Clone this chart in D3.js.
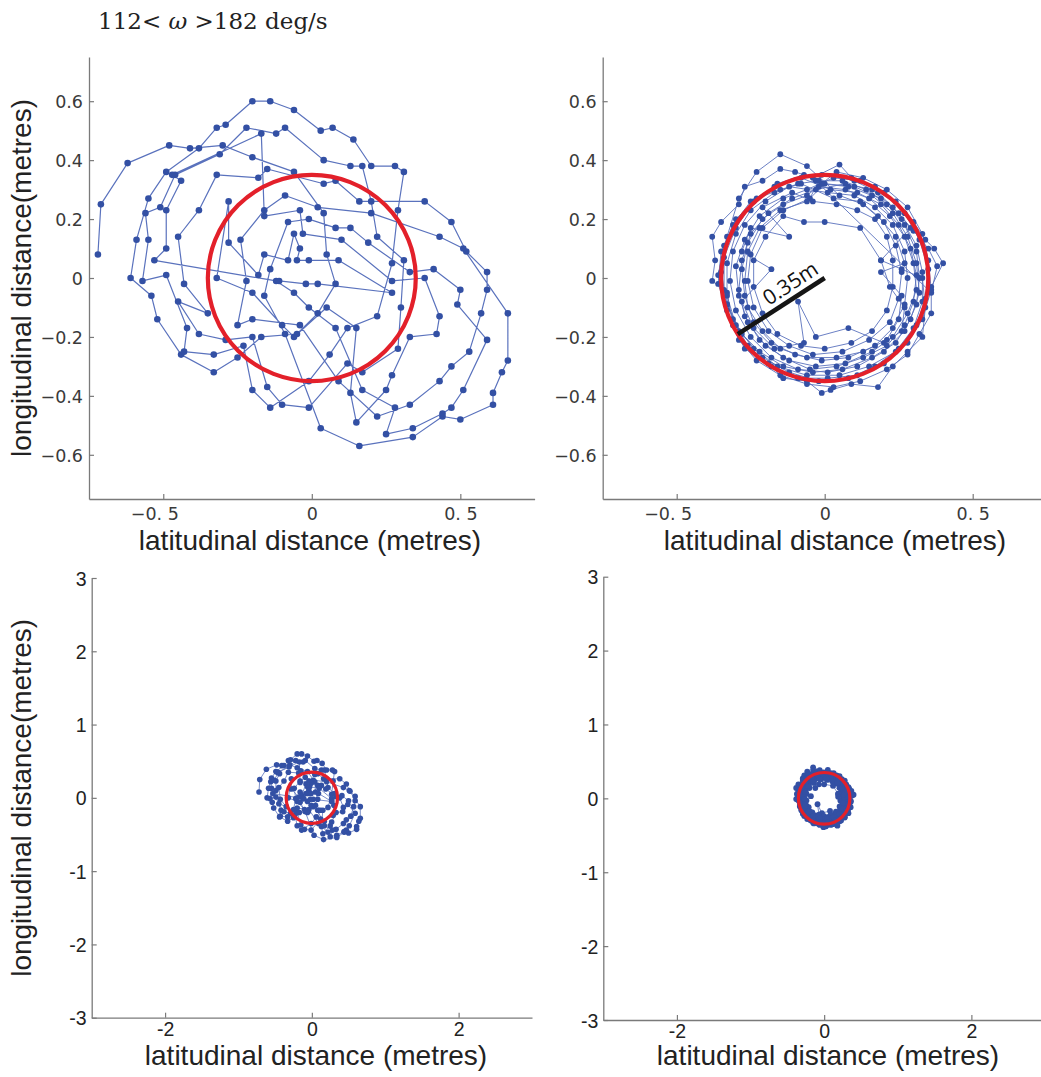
<!DOCTYPE html>
<html>
<head>
<meta charset="utf-8">
<script src="https://cdn.jsdelivr.net/npm/d3@7"></script>
<style>
  html, body { margin: 0; padding: 0; background: #fff; }
  svg { display: block; }
</style>
</head>
<body>
<svg id="fig" width="1041" height="1077"></svg>
<script>
// Trajectory of the robot centre, latitudinal (x) vs longitudinal (y), metres.
// Unstabilised run: the orbit drifts from upper-left to lower-right.
const driftTrack = [
  [-0.72,0.08],[-0.71,0.25],[-0.62,0.39],[-0.48,0.45],[-0.41,0.44],[-0.30,0.45],[-0.20,0.41],[-0.06,0.36],[0.04,0.22],[0.05,0.08],[0.08,-0.02],[0.02,-0.12],[-0.05,-0.19],[-0.17,-0.20],[-0.25,-0.27],[-0.33,-0.32],[-0.44,-0.26],[-0.52,-0.14],[-0.54,-0.06],[-0.61,0.00],
  [-0.59,0.13],[-0.55,0.27],[-0.49,0.36],[-0.38,0.44],[-0.32,0.51],[-0.29,0.52],[-0.20,0.60],[-0.14,0.60],[-0.06,0.57],[0.03,0.50],[0.07,0.51],[0.14,0.47],[0.20,0.38],[0.28,0.38],[0.31,0.36],[0.29,0.23],[0.27,0.05],[0.22,-0.13],[0.12,-0.17],[0.06,-0.26],[-0.01,-0.35],[-0.14,-0.44],[-0.20,-0.38],[-0.23,-0.23],[-0.33,-0.26],[-0.43,-0.25],[-0.42,-0.17],[-0.49,0.01],
  [-0.57,-0.01],[-0.55,0.13],[-0.56,0.22],[-0.51,0.24],[-0.46,0.35],[-0.31,0.42],[-0.22,0.51],[-0.12,0.49],[-0.09,0.51],[0.04,0.40],[0.13,0.38],[0.17,0.38],[0.20,0.26],[0.22,0.14],[0.31,0.06],[0.30,-0.10],[0.29,-0.24],[0.17,-0.32],[0.12,-0.29],[-0.01,-0.44],[-0.10,-0.43],[-0.15,-0.37],[-0.20,-0.20],[-0.29,-0.21],[-0.38,-0.19],[-0.45,-0.08],
  [-0.35,-0.12],[-0.43,-0.02],[-0.45,0.14],[-0.38,0.23],[-0.32,0.35],[-0.18,0.34],[-0.15,0.37],[0.04,0.32],[0.08,0.33],[0.16,0.26],[0.38,0.26],[0.47,0.19],[0.52,0.09],[0.59,0.02],[0.59,-0.04],[0.57,-0.12],[0.53,-0.25],[0.47,-0.30],[0.43,-0.35],[0.33,-0.43],[0.22,-0.47],[0.09,-0.35],[-0.04,-0.16],[-0.20,-0.14],[-0.25,-0.16],
  [-0.22,-0.01],[-0.24,0.13],[-0.16,0.23],[-0.09,0.28],[0.02,0.24],[0.20,0.22],[0.43,0.14],[0.51,0.10],[0.66,-0.12],[0.66,-0.28],[0.64,-0.32],[0.61,-0.39],[0.61,-0.43],[0.50,-0.48],[0.44,-0.47],[0.34,-0.54],[0.16,-0.57],[0.03,-0.51],[-0.09,-0.19],[-0.16,-0.06],
  [-0.14,0.03],[-0.08,0.19],[-0.01,0.20],[0.08,0.17],[0.13,0.17],[0.19,0.12],[0.33,0.02],[0.41,0.03],[0.50,-0.04],[0.49,-0.09],[0.59,-0.21],[0.51,-0.38],[0.47,-0.44],[0.44,-0.46],[0.34,-0.51],[0.25,-0.53],[0.28,-0.44],[0.17,-0.38],[0.08,-0.17],[-0.01,-0.10],[-0.06,-0.05],[-0.12,-0.01],
  [-0.53,0.06],[-0.49,0.10],[-0.49,0.23],[-0.44,0.33],[-0.47,0.35],[-0.17,0.49],[-0.16,0.21],[-0.04,0.23],[-0.03,0.15],[0.10,0.13],[0.27,-0.01],[0.38,0.00],[0.43,-0.13],[0.42,-0.19],[0.33,-0.20],[0.27,-0.33],[0.25,-0.38],[0.15,-0.49],[0.13,-0.39],[0.15,-0.17],[0.05,-0.10],[-0.06,-0.20],[-0.10,-0.16],[-0.20,-0.05],[-0.32,0.00],
  [-0.28,0.26],[-0.28,0.12],[-0.18,0.01],[-0.16,0.08],[-0.08,0.06],[-0.06,0.15],[-0.04,0.10],[-0.05,0.06],[-0.01,0.06],[0.09,0.06],[0.27,-0.05],[0.02,-0.02],[-0.02,-0.02],[-0.11,-0.01]
];

// Stabilised run: the orbit stays on a ring of about 0.3 m around the origin.
const steadyTrack = [
  [-0.02,0.31],[0.07,0.30],[0.15,0.27],[0.22,0.21],[0.27,0.14],[0.30,0.05],[0.31,-0.04],[0.28,-0.12],[0.23,-0.20],[0.16,-0.25],[0.07,-0.29],[-0.03,-0.30],[-0.12,-0.28],[-0.20,-0.23],[-0.26,-0.15],[-0.29,-0.06],[-0.30,0.04],[-0.27,0.13],[-0.22,0.21],[-0.14,0.27],[-0.06,0.30],
  [0.03,0.34],[0.12,0.33],[0.20,0.29],[0.27,0.22],[0.32,0.13],[0.35,0.03],[0.34,-0.07],[0.31,-0.16],[0.25,-0.24],[0.17,-0.30],[0.08,-0.34],[-0.02,-0.35],[-0.12,-0.32],[-0.21,-0.27],[-0.28,-0.19],[-0.33,-0.09],[-0.35,0.02],[-0.33,0.14],[-0.29,0.27],[-0.23,0.36],[-0.15,0.42],[-0.06,0.38],
  [0.05,0.28],[0.13,0.25],[0.20,0.19],[0.24,0.11],[0.26,0.02],[0.25,-0.07],[0.22,-0.15],[0.15,-0.21],[0.06,-0.25],[-0.04,-0.26],[-0.12,-0.23],[-0.19,-0.18],[-0.24,-0.10],[-0.26,-0.01],[-0.25,0.08],[-0.21,0.17],[-0.14,0.23],[-0.05,0.27],
  [-0.01,0.35],[0.09,0.34],[0.17,0.31],[0.24,0.26],[0.30,0.19],[0.34,0.13],[0.37,0.10],[0.40,0.05],[0.36,-0.03],[0.36,-0.12],[0.32,-0.19],[0.28,-0.26],[0.21,-0.31],[0.12,-0.35],[0.03,-0.37],[-0.06,-0.36],[-0.15,-0.33],[-0.23,-0.28],[-0.29,-0.21],[-0.33,-0.11],[-0.36,-0.02],[-0.35,0.09],[-0.31,0.18],[-0.25,0.26],[-0.17,0.31],[-0.08,0.34],
  [0.02,0.30],[0.11,0.29],[0.19,0.25],[0.25,0.18],[0.29,0.10],[0.31,0.01],[0.30,-0.08],[0.27,-0.16],[0.21,-0.23],[0.13,-0.27],[0.04,-0.30],[-0.05,-0.31],[-0.14,-0.27],[-0.22,-0.21],[-0.27,-0.13],[-0.29,-0.04],[-0.28,0.06],[-0.25,0.15],[-0.19,0.22],[-0.11,0.27],[-0.03,0.30],
  [0.07,0.32],[0.16,0.30],[0.23,0.24],[0.29,0.17],[0.19,0.06],[0.22,-0.03],[0.27,-0.10],[0.26,-0.18],[0.20,-0.22],[0.08,-0.17],[-0.03,-0.20],[-0.09,-0.08],[-0.07,-0.22],[-0.17,-0.24],[-0.24,-0.17],[-0.28,-0.08],[-0.18,0.03],[-0.28,0.09],[-0.25,0.17],[-0.12,0.14],[-0.21,0.24],[-0.11,0.29],
  [-0.04,0.26],[0.04,0.25],[0.11,0.23],[0.17,0.20],[0.21,0.14],[0.23,0.06],[0.23,-0.03],[0.21,-0.11],[0.16,-0.18],[0.09,-0.22],[0.00,-0.24],[-0.08,-0.23],[-0.16,-0.19],[-0.21,-0.12],[-0.24,-0.03],[-0.24,0.06],[-0.20,0.14],[-0.14,0.21],
  [-0.07,0.19],[0.00,0.19],[0.12,0.17],[0.19,0.06],[0.26,0.03],[0.33,0.00],[0.34,-0.10],[0.33,-0.20],[0.28,-0.25],[0.23,-0.30],[0.18,-0.37],[0.09,-0.36],[0.02,-0.38],[-0.01,-0.39],[-0.06,-0.35],[-0.14,-0.34],[-0.19,-0.29],[-0.27,-0.24],[-0.31,-0.16],[-0.33,-0.05],[-0.38,-0.01],[-0.37,0.06],[-0.38,0.14],[-0.35,0.19],[-0.29,0.25],[-0.27,0.31],[-0.21,0.33],[-0.15,0.37],[-0.10,0.36],[-0.04,0.34],[0.05,0.385],[0.10,0.33],[0.18,0.29],[0.25,0.22],[0.30,0.16],[0.35,0.10],[0.38,0.04],[0.36,-0.05],
  [-0.03,0.33],[0.06,0.33],[0.14,0.30],[0.21,0.25],[0.27,0.18],[0.31,0.09],[0.32,0.00],[0.31,-0.09],[0.27,-0.18],[0.20,-0.25],[0.11,-0.30],[0.01,-0.32],[-0.09,-0.31],[-0.18,-0.27],[-0.25,-0.20],[-0.30,-0.11],[-0.32,-0.01],[-0.31,0.09],[-0.27,0.18],[-0.20,0.26],[-0.12,0.31],
  [0.01,0.29],[0.10,0.28],[0.17,0.24],[0.23,0.18],[0.27,0.09],[0.28,0.00],[0.27,-0.09],[0.23,-0.17],[0.17,-0.23],[0.08,-0.27],[-0.01,-0.28],[-0.10,-0.26],[-0.18,-0.22],[-0.24,-0.15],[-0.27,-0.06],[-0.28,0.03],[-0.26,0.12],[-0.21,0.20],[-0.14,0.25],[-0.06,0.28],
  [0.04,0.36],[0.13,0.34],[0.21,0.30],[0.28,0.24],[0.33,0.15],[0.35,0.06],[0.36,-0.04],[0.33,-0.14],[0.28,-0.22],[0.20,-0.29],[0.11,-0.33],[0.01,-0.34],[-0.09,-0.34],[-0.18,-0.30],[-0.26,-0.23],[-0.31,-0.14],[-0.34,-0.04],[-0.34,0.07],[-0.30,0.17],[-0.24,0.26],[-0.16,0.32],[-0.07,0.35],
  [-0.01,0.32],[0.08,0.31],[0.16,0.28],[0.23,0.22],[0.28,0.14],[0.31,0.05],[0.32,-0.05],[0.29,-0.14],[0.24,-0.22],[0.16,-0.27],[0.06,-0.31],[-0.04,-0.32],[-0.14,-0.30],[-0.22,-0.25],[-0.29,-0.18],[-0.33,-0.09],[-0.36,0.01],[-0.34,0.11],[-0.30,0.20],[-0.23,0.27],[-0.15,0.30],[-0.08,0.32],
  [0.03,0.27],[0.12,0.26],[0.18,0.21],[0.24,0.14],[0.27,0.05],[0.19,0.02],[0.26,-0.06],[0.25,-0.14],[0.21,-0.21],[0.13,-0.25],[0.04,-0.27],[-0.06,-0.27],[-0.15,-0.24],[-0.21,-0.18],[-0.26,-0.10],[-0.27,-0.01],[-0.26,0.09],[-0.22,0.17],[-0.15,0.23],[-0.06,0.26],
  [0.00,0.32],[0.10,0.31],[0.19,0.27],[0.26,0.20],[0.31,0.11],[0.33,0.02],[0.33,-0.08],[0.30,-0.17],[0.24,-0.25],[0.15,-0.30],[0.05,-0.33],[-0.06,-0.33],[-0.16,-0.30],[-0.24,-0.24],[-0.30,-0.16],[-0.33,-0.06],[-0.33,0.05],[-0.30,0.15],[-0.25,0.23],[-0.17,0.29],[-0.09,0.32],[-0.02,0.33]
];

// Reference ring and its radius annotation
const ringRadius = 0.35;          // metres
const radiusAngleDeg = 213;       // direction of the radius marker
const radiusLabel = "0.35m";

// Axis ticks
const fineTicks = [-0.6, -0.4, -0.2, 0, 0.2, 0.4, 0.6];
const fineTickLabels = ["\u22120.6", "\u22120.4", "\u22120.2", "0", "0.2", "0.4", "0.6"];
const fineXTicks = [-0.5, 0, 0.5];
const fineXTickLabels = ["\u22120. 5", "0", "0. 5"];
const wideTicks = [-3, -2, -1, 0, 1, 2, 3];
const wideTickLabels = ["-3", "-2", "-1", "0", "1", "2", "3"];
const wideXTicks = [-2, 0, 2];
const wideXTickLabels = ["-2", "0", "2"];

const titleText = ["112< ", "\u03c9", " >182 deg/s"];
const xTitle = "latitudinal distance (metres)";
const yTitle = "longitudinal distance(metres)";

const svg = d3.select("#fig");

const BLUE_DOT = "#3350a4";
const BLUE_LINE = "#5a72bd";
const RED = "#e3202a";
const AXIS = "#7a7a7a";

const panels = [
  { data: driftTrack, dom: 0.75, xr: [89, 534.6], yr: [499, 57], xt: fineXTicks, xtl: fineXTickLabels,
    yt: fineTicks, ytl: fineTickLabels, fine: true, dotR: 3.3, lineW: 1.2, ringW: 4.2, yLabel: true, xLabelY: 550, xLabelX: 310 },
  { data: steadyTrack, dom: 0.75, xr: [602.7, 1046.7], yr: [499, 57], xt: fineXTicks, xtl: fineXTickLabels,
    yt: fineTicks, ytl: fineTickLabels, fine: true, dotR: 2.9, lineW: 0.9, ringW: 4.2, yLabel: false, marker: true, xLabelY: 550, xLabelX: 835 },
  { data: driftTrack, dom: 3, xr: [91.7, 532], yr: [1017.7, 578], xt: wideXTicks, xtl: wideXTickLabels,
    yt: wideTicks, ytl: wideTickLabels, fine: false, dotR: 2.8, lineW: 0.8, ringW: 3.2, yLabel: true, xLabelY: 1065, xLabelX: 316 },
  { data: steadyTrack, dom: 3, xr: [603.3, 1045], yr: [1020, 576.7], xt: wideXTicks, xtl: wideXTickLabels,
    yt: wideTicks, ytl: wideTickLabels, fine: false, dotR: 2.9, lineW: 0.8, ringW: 3.2, yLabel: false, xLabelY: 1065, xLabelX: 828 }
];

panels.forEach((p) => {
  const x = d3.scaleLinear().domain([-p.dom, p.dom]).range(p.xr);
  const y = d3.scaleLinear().domain([-p.dom, p.dom]).range(p.yr);
  const g = svg.append("g");

  const tickFont = p.fine ? "'DejaVu Sans', sans-serif" : "'Liberation Sans', Arial, sans-serif";
  const tickSize = p.fine ? 17.5 : 19.5;
  const tickFill = p.fine ? "#3a3a3a" : "#222";

  // Axes: left and bottom only, ticks pointing inward
  const yAxis = d3.axisLeft(y).tickValues(p.yt).tickSizeInner(-5).tickSizeOuter(0)
    .tickFormat((d, k) => p.ytl[k]);
  const xAxis = d3.axisBottom(x).tickValues(p.xt).tickSizeInner(-5).tickSizeOuter(0)
    .tickFormat((d, k) => p.xtl[k]);

  const ya = g.append("g").attr("transform", `translate(${p.xr[0]},0)`).call(yAxis);
  const xa = g.append("g").attr("transform", `translate(0,${p.yr[0]})`).call(xAxis);
  [ya, xa].forEach(a => {
    a.select(".domain").attr("stroke", AXIS).attr("stroke-width", 1.3);
    a.selectAll(".tick line").attr("stroke", AXIS).attr("stroke-width", 1.2);
    a.selectAll(".tick text").attr("fill", tickFill).attr("font-family", tickFont)
      .attr("font-size", tickSize);
  });
  ya.selectAll(".tick text").attr("x", p.fine ? -6 : -5).attr("dy", "0.36em");
  xa.selectAll(".tick text").attr("y", p.fine ? 9 : 4).attr("dy", "0.71em")
    .attr("dx", d => (p.fine && d < 0) ? -9 : 0);

  // Trajectory: connecting line then sample markers
  const line = d3.line().x(d => x(d[0])).y(d => y(d[1]));
  g.append("path").datum(p.data).attr("d", line)
    .attr("fill", "none").attr("stroke", BLUE_LINE).attr("stroke-width", p.lineW)
    .attr("stroke-linejoin", "round");
  g.append("g").selectAll("circle").data(p.data).join("circle")
    .attr("cx", d => x(d[0])).attr("cy", d => y(d[1])).attr("r", p.dotR)
    .attr("fill", BLUE_DOT);

  // Reference ring
  g.append("ellipse")
    .attr("cx", x(0)).attr("cy", y(0))
    .attr("rx", x(ringRadius) - x(0)).attr("ry", y(0) - y(ringRadius))
    .attr("fill", "none").attr("stroke", RED).attr("stroke-width", p.ringW);

  // Radius marker with its label
  if (p.marker) {
    const a = radiusAngleDeg * Math.PI / 180;
    const ex = ringRadius * Math.cos(a), ey = ringRadius * Math.sin(a);
    const x0 = x(0), y0 = y(0), x1 = x(ex), y1 = y(ey);
    g.append("line").attr("x1", x1).attr("y1", y1).attr("x2", x0).attr("y2", y0)
      .attr("stroke", "#151515").attr("stroke-width", 4.5);
    const ang = Math.atan2(y0 - y1, x0 - x1) * 180 / Math.PI;
    const mx = (x0 + x1) / 2, my = (y0 + y1) / 2;
    g.append("text")
      .attr("transform", `translate(${mx},${my}) rotate(${ang})`)
      .attr("x", 20).attr("y", -7)
      .attr("text-anchor", "middle")
      .attr("font-family", "'Open Sans', sans-serif").attr("font-size", 21)
      .attr("fill", "#111").text(radiusLabel);
  }

  // Axis titles
  g.append("text").attr("x", p.xLabelX).attr("y", p.xLabelY)
    .attr("text-anchor", "middle").attr("font-family", "'Liberation Sans', Arial, sans-serif")
    .attr("font-size", 28).attr("fill", "#222").text(xTitle);
  if (p.yLabel) {
    const cy = (p.yr[0] + p.yr[1]) / 2;
    g.append("text").attr("transform", `translate(31,${cy}) rotate(-90)`)
      .attr("text-anchor", "middle").attr("font-family", "'Liberation Sans', Arial, sans-serif")
      .attr("font-size", 28).attr("fill", "#222").text(yTitle);
  }
});

// Figure title
const title = svg.append("text").attr("x", 98).attr("y", 29)
  .attr("font-family", "'DejaVu Serif', serif").attr("font-size", 23).attr("fill", "#222");
title.append("tspan").text(titleText[0]);
title.append("tspan").attr("font-style", "italic").text(titleText[1]);
title.append("tspan").text(titleText[2]);
</script>
</body>
</html>
